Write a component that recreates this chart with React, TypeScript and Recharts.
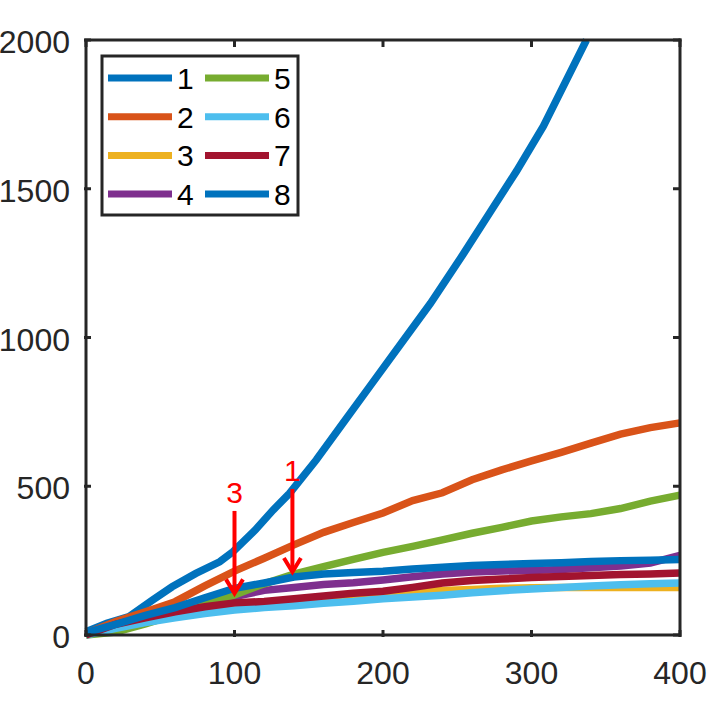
import { LineChart, Line, XAxis, YAxis, ReferenceLine } from "recharts";

// shared sample positions for series 2..8
const steps = [0, 20, 40, 60, 80, 100, 120, 140, 160, 180, 200, 220, 240, 260, 280, 300, 320, 340, 360, 380, 400];

// series 1 leaves the plot at the top, so it has its own positions
const s1Steps = [0, 14, 29, 45, 58, 74, 90, 99, 114, 126, 137, 155, 173, 191, 209, 232, 254, 272, 290, 308, 337];
const s1Values = [11, 39, 62, 118, 162, 207, 246, 280, 353, 420, 476, 588, 712, 835, 958, 1115, 1280, 1420, 1560, 1710, 2000];

const s2Values = [5, 45, 78, 112, 165, 215, 258, 303, 345, 378, 410, 452, 478, 522, 555, 585, 614, 645, 675, 697, 713];
const s3Values = [0, 25, 45, 62, 76, 90, 97, 106, 116, 127, 138, 145, 150, 153, 157, 159, 160, 160, 160, 160, 160];
const s4Values = [0, 35, 60, 82, 105, 129, 150, 160, 170, 176, 185, 196, 205, 212, 215, 217, 220, 226, 232, 242, 268];
const s5Values = [0, 10, 37, 68, 102, 135, 172, 205, 230, 254, 278, 298, 320, 342, 362, 383, 397, 408, 425, 450, 470];
const s6Values = [0, 22, 42, 58, 72, 84, 92, 98, 107, 113, 122, 128, 134, 142, 149, 155, 160, 165, 169, 172, 175];
const s7Values = [0, 36, 58, 78, 95, 108, 113, 122, 131, 140, 147, 160, 175, 183, 188, 193, 197, 200, 203, 205, 208];
const s8Values = [8, 36, 66, 92, 125, 157, 175, 195, 205, 210, 214, 222, 228, 234, 237, 240, 243, 247, 250, 251, 254];

const seriesNames = ["1", "2", "3", "4", "5", "6", "7", "8"];
const seriesColors = ["#0072BD", "#D95319", "#EDB120", "#7E2F8E", "#77AC30", "#4DBEEE", "#A2142F", "#0072BD"];

const xMax = 400;
const yMax = 2000;
const xTicks = [0, 100, 200, 300, 400];
const yTicks = [0, 500, 1000, 1500, 2000];

// annotation arrows: label, x, start y, tip y
const arrowLabels = ["3", "1"];
const arrowX = [100, 139];
const arrowFrom = [417, 491];
const arrowTo = [140, 212];

const toRows = (xs: number[], ys: number[]) => xs.map((x, i) => ({ x, y: ys[i] }));

const seriesData = [
  toRows(s1Steps, s1Values),
  toRows(steps, s2Values),
  toRows(steps, s3Values),
  toRows(steps, s4Values),
  toRows(steps, s5Values),
  toRows(steps, s6Values),
  toRows(steps, s7Values),
  toRows(steps, s8Values),
];

const AXIS = "#262626";
const FONT = "'Liberation Sans', Arial, Helvetica, sans-serif";
const TICK = 7;

// bottom / left axes: inward tick mark plus label
function makeTick(side: "bottom" | "left") {
  return (p: any) => {
    if (side === "bottom") {
      const c = p.x;
      const base = p.y - (p.tickSize ?? 0) - (p.tickMargin ?? 0);
      return (
        <g>
          <line x1={c} x2={c} y1={p.y} y2={p.y - TICK} stroke={AXIS} strokeWidth={3} />
          <text x={c} y={p.y + 47} textAnchor="middle" fontSize={32} fontFamily={FONT} fill={AXIS} data-b={base}>
            {p.payload.value}
          </text>
        </g>
      );
    }
    const c = p.y;
    return (
      <g>
        <line x1={p.x} x2={p.x + TICK} y1={c} y2={c} stroke={AXIS} strokeWidth={3} />
        <text x={p.x - 14} y={c + 13} textAnchor="end" fontSize={32} fontFamily={FONT} fill={AXIS}>
          {p.payload.value}
        </text>
      </g>
    );
  };
}

// top edge of the box with its downward ticks
function TopEdge(props: any) {
  const { x1, x2, y1 } = props;
  const left = Math.min(x1, x2);
  const right = Math.max(x1, x2);
  return (
    <g>
      <line x1={left - 1.5} x2={right + 1.5} y1={y1} y2={y1} stroke={AXIS} strokeWidth={3} />
      {xTicks.map((t) => {
        const x = left + ((right - left) * t) / xMax;
        return <line key={t} x1={x} x2={x} y1={y1} y2={y1 + TICK} stroke={AXIS} strokeWidth={3} />;
      })}
    </g>
  );
}

// right edge of the box with its leftward ticks
function RightEdge(props: any) {
  const { x1, y1, y2 } = props;
  const top = Math.min(y1, y2);
  const bottom = Math.max(y1, y2);
  return (
    <g>
      <line x1={x1} x2={x1} y1={top - 1.5} y2={bottom + 1.5} stroke={AXIS} strokeWidth={3} />
      {yTicks.map((t) => {
        const y = bottom - ((bottom - top) * t) / yMax;
        return <line key={t} x1={x1} x2={x1 - TICK} y1={y} y2={y} stroke={AXIS} strokeWidth={3} />;
      })}
    </g>
  );
}

function ArrowShape(props: any) {
  const { x1, y1, x2, y2, text } = props;
  return (
    <g>
      <line x1={x1} y1={y1} x2={x2} y2={y2 - 2} stroke="#FF0000" strokeWidth={4} />
      <polyline
        points={`${x2 - 8.5},${y2 - 14} ${x2},${y2} ${x2 + 8.5},${y2 - 14}`}
        fill="none"
        stroke="#FF0000"
        strokeWidth={4}
      />
      <text x={x1} y={y1 - 8} textAnchor="middle" fontSize={30} fontFamily={FONT} fill="#FF0000">
        {text}
      </text>
    </g>
  );
}

function LegendBox() {
  return (
    <svg width={709} height={709} style={{ position: "absolute", left: 0, top: 0, pointerEvents: "none" }}>
      <rect x={102} y={56} width={196} height={159} fill="#fff" stroke={AXIS} strokeWidth={3} />
      {seriesNames.map((name, i) => {
        const col = Math.floor(i / 4);
        const row = i % 4;
        const lx = 108 + col * 97;
        const cy = 78 + row * 38.7;
        return (
          <g key={name}>
            <line x1={lx} y1={cy} x2={lx + 64} y2={cy} stroke={seriesColors[i]} strokeWidth={7} />
            <text x={lx + 69} y={cy + 11} fontSize={30} fontFamily={FONT} fill="#000">
              {name}
            </text>
          </g>
        );
      })}
    </svg>
  );
}

export default function App() {
  const axisLine = { stroke: AXIS, strokeWidth: 3 };
  return (
    <div style={{ position: "relative", width: 709, height: 709, background: "#fff" }}>
      <style>{`body{margin:0}`}</style>
      <LineChart width={709} height={709} margin={{ top: 40, right: 29, bottom: 0, left: 0 }}>
        <XAxis
          dataKey="x"
          type="number"
          domain={[0, xMax]}
          ticks={xTicks}
          height={74}
          tickSize={0}
          tick={makeTick("bottom")}
          tickLine={false}
          axisLine={axisLine}
        />
        <YAxis
          type="number"
          domain={[0, yMax]}
          ticks={yTicks}
          width={86}
          tickSize={0}
          tick={makeTick("left")}
          tickLine={false}
          axisLine={axisLine}
        />
        {seriesData.map((rows, i) => (
          <Line
            key={seriesNames[i] + i}
            data={rows}
            dataKey="y"
            name={seriesNames[i]}
            type="linear"
            stroke={seriesColors[i]}
            strokeWidth={7.5}
            dot={false}
            isAnimationActive={false}
          />
        ))}
        <ReferenceLine y={yMax} ifOverflow="visible" shape={(p: any) => <TopEdge {...p} />} />
        <ReferenceLine x={xMax} ifOverflow="visible" shape={(p: any) => <RightEdge {...p} />} />
        {arrowLabels.map((label, i) => (
          <ReferenceLine
            key={label}
            segment={[
              { x: arrowX[i], y: arrowFrom[i] },
              { x: arrowX[i], y: arrowTo[i] },
            ]}
            shape={(p: any) => <ArrowShape {...p} text={label} />}
          />
        ))}
      </LineChart>
      <LegendBox />
    </div>
  );
}
